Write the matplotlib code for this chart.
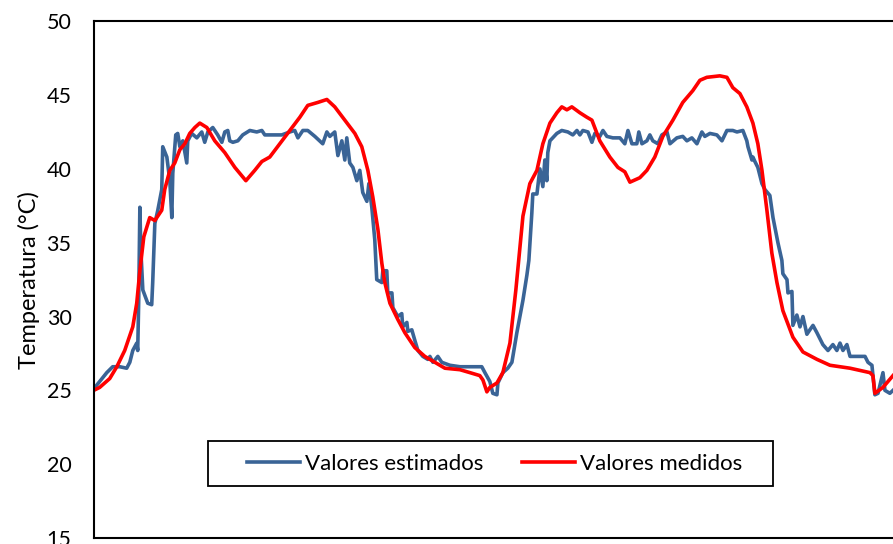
import matplotlib
matplotlib.use("Agg")
import matplotlib.pyplot as plt
from matplotlib.patches import Rectangle

# time in hours (x axis is unlabelled in the reference)
t_medidos = [0.0, 0.36, 0.97, 1.40, 1.88, 2.37, 2.61, 2.80, 3.04, 3.40, 3.71, 4.13, 4.31,
             4.62, 4.92, 5.23, 5.53, 5.83, 6.14, 6.44, 6.87, 7.35, 7.96, 8.57, 9.24, 9.78,
             10.21, 10.69, 11.30, 11.91, 12.52, 13.00, 13.61, 14.16, 14.64, 15.25, 15.86,
             16.28, 16.65, 16.95, 17.26, 17.50, 17.68, 17.99, 18.47, 18.90, 19.50, 20.11,
             20.72, 21.33, 22.24, 22.85, 23.45, 23.64, 23.88, 24.06, 24.49, 24.85, 25.28,
             25.64, 26.07, 26.49, 26.92, 27.28, 27.71, 28.13, 28.43, 28.74, 29.04, 29.53,
             29.95, 30.26, 30.74, 31.35, 31.84, 32.26, 32.57, 33.17, 33.60, 34.08, 34.57,
             35.18, 35.78, 36.39, 36.82, 37.24, 38.03, 38.46, 38.82, 39.25, 39.67, 40.04,
             40.34, 40.59, 40.89, 41.19, 41.50, 41.86, 42.47, 43.08, 43.93, 44.72, 45.94,
             47.15, 47.33, 47.45, 47.94, 48.55]
temp_medidos = [25.0, 25.2, 25.8, 26.6, 27.7, 29.3, 30.9, 33.1, 35.4, 36.7, 36.5, 37.2, 38.6,
                39.9, 40.4, 41.3, 41.7, 42.4, 42.8, 43.1, 42.8, 41.9, 41.1, 40.1, 39.2, 39.9,
                40.5, 40.8, 41.7, 42.6, 43.5, 44.3, 44.5, 44.7, 44.2, 43.3, 42.4,
                41.5, 39.9, 38.1, 35.9, 33.6, 32.3, 30.9, 29.8, 28.9, 27.9, 27.3,
                26.9, 26.5, 26.4, 26.2, 26.0, 25.7, 24.9, 25.2, 25.5, 26.2, 28.2,
                31.8, 36.8, 39.0, 39.9, 41.7, 43.1, 43.8, 44.2, 44.0, 44.2, 43.8,
                43.5, 43.3, 41.9, 40.8, 40.1, 39.8, 39.1, 39.4, 39.9, 40.8, 42.2,
                43.3, 44.5, 45.3, 46.0, 46.2, 46.3, 46.2, 45.5, 45.1, 44.2, 43.1,
                41.7, 39.9, 37.2, 34.3, 32.3, 30.4, 28.6, 27.6, 27.1, 26.7, 26.5,
                26.2, 26.0, 24.8, 25.2, 26.0]

t_estimados = [0.0, 0.36, 0.79, 1.15, 1.58, 2.00, 2.19, 2.37, 2.61, 2.67, 2.73, 2.80, 2.86,
               2.98, 3.28, 3.52, 3.58, 3.71, 3.89, 4.13, 4.19, 4.44, 4.62, 4.74, 4.80, 4.98,
               5.10, 5.23, 5.41, 5.65, 5.71, 5.95, 6.26, 6.56, 6.74, 6.93, 7.23, 7.53, 7.78,
               7.96, 8.14, 8.26, 8.45, 8.75, 9.05, 9.48, 9.90, 10.21, 10.39, 10.82, 11.42,
               11.91, 12.21, 12.40, 12.70, 13.00, 13.43, 13.91, 14.16, 14.34, 14.64, 14.83,
               15.07, 15.25, 15.37, 15.55, 15.74, 15.98, 16.16, 16.34, 16.59, 16.71, 16.89,
               17.07, 17.19, 17.50, 17.56, 17.80, 17.86, 18.11, 18.17, 18.47, 18.71, 18.77,
               19.02, 19.08, 19.32, 19.50, 19.69, 19.99, 20.29, 20.42, 20.60, 20.90, 21.14,
               21.63, 22.24, 22.85, 23.57, 23.76, 24.06, 24.24, 24.49, 24.55, 24.85, 25.15,
               25.40, 25.70, 26.07, 26.31, 26.43, 26.61, 26.67, 26.92, 27.10, 27.28, 27.40,
               27.52, 27.58, 27.71, 28.13, 28.43, 28.80, 29.10, 29.35, 29.53, 29.71, 30.02,
               30.26, 30.44, 30.74, 30.93, 31.17, 31.53, 31.96, 32.26, 32.45, 32.69, 32.99,
               33.11, 33.30, 33.60, 33.78, 33.96, 34.27, 34.51, 34.82, 35.00, 35.42, 35.78,
               36.03, 36.33, 36.64, 36.94, 37.12, 37.43, 37.85, 38.16, 38.46, 38.82, 39.07,
               39.43, 39.67, 39.74, 39.98, 40.04, 40.16, 40.34, 40.59, 40.77, 41.07, 41.26,
               41.56, 41.80, 41.86, 42.11, 42.17, 42.41, 42.47, 42.71, 42.90, 43.08, 43.32,
               43.50, 43.69, 43.93, 44.11, 44.29, 44.60, 44.90, 45.14, 45.33, 45.51, 45.75,
               45.94, 46.54, 46.85, 47.03, 47.27, 47.45, 47.64, 47.94, 48.06, 48.36, 48.55]
temp_estimados = [25.1, 25.6, 26.2, 26.6, 26.6, 26.5, 26.9, 27.7, 28.2, 27.7, 31.1, 37.4, 34.5,
                  31.8, 30.9, 30.8, 32.3, 36.3, 37.2, 38.6, 41.5, 40.8, 39.2, 36.7, 39.7, 42.3,
                  42.4, 41.5, 41.9, 40.4, 41.9, 42.4, 42.1, 42.5, 41.8, 42.5, 42.8, 42.3, 41.8,
                  42.5, 42.6, 41.9, 41.8, 41.9, 42.3, 42.6, 42.5, 42.6, 42.3, 42.3, 42.3,
                  42.5, 42.6, 42.1, 42.6, 42.6, 42.2, 41.7, 42.5, 42.2, 42.5, 40.9,
                  41.9, 40.6, 42.1, 40.4, 40.1, 39.2, 39.9, 38.4, 37.8, 39.0, 37.4,
                  35.2, 32.5, 32.3, 33.1, 33.1, 31.6, 31.6, 30.6, 30.0, 30.2, 29.3,
                  29.6, 29.0, 29.1, 28.4, 27.7, 27.3, 27.1, 27.3, 26.9, 27.3, 26.9,
                  26.7, 26.6, 26.6, 26.6, 26.2, 25.6, 24.8, 24.7, 25.5, 26.2, 26.5,
                  26.9, 28.9, 31.1, 32.8, 33.8, 37.0, 38.3, 38.3, 40.0, 38.8, 40.6,
                  39.2, 41.1, 41.9, 42.4, 42.6, 42.5, 42.3, 42.6, 42.3, 42.6, 42.5,
                  41.8, 42.4, 42.2, 42.6, 42.2, 42.1, 42.1, 41.7, 42.6, 41.7, 41.7,
                  42.5, 41.7, 41.9, 42.3, 41.9, 41.7, 42.3, 42.5, 41.7, 42.1, 42.2,
                  41.9, 42.1, 41.7, 42.5, 42.2, 42.4, 42.3, 41.9, 42.6, 42.6, 42.5,
                  42.6, 41.9, 41.5, 40.6, 40.8, 40.5, 40.1, 39.0, 38.6, 38.2, 36.7,
                  35.0, 33.8, 32.9, 32.5, 31.6, 31.7, 29.4, 30.1, 29.3, 30.0, 28.8,
                  29.1, 29.4, 28.9, 28.5, 28.1, 27.7, 28.1, 27.7, 28.2, 27.7, 28.1,
                  27.3, 27.3, 27.3, 26.9, 26.7, 24.7, 24.8, 26.2, 25.0, 24.8, 25.0]

yticks = [15, 20, 25, 30, 35, 40, 45, 50]

plt.rcParams["font.family"] = ["Lato", "DejaVu Sans"]

fig = plt.figure(figsize=(8.93, 5.44), dpi=100)
ax = fig.add_axes([0.105, 0.011, 0.895, 0.95])

ax.plot(t_estimados, temp_estimados, color="#3A6496", lw=2.6, label="Valores estimados",
        solid_joinstyle="round")
ax.plot(t_medidos, temp_medidos, color="#FF0000", lw=2.6, label="Valores medidos",
        solid_joinstyle="round")

ax.set_xlim(0, 48.55)
ax.set_ylim(15, 50)
ax.set_yticks(yticks)
ax.set_xticks([])
ax.tick_params(axis="y", length=0, pad=16, labelsize=15.5)
ax.set_ylabel("Temperatura (°C)", fontsize=17, labelpad=5)

for side in ["left", "bottom", "top"]:
    ax.spines[side].set_linewidth(1.5)
ax.spines["right"].set_visible(False)

# legend box
ax.add_patch(Rectangle((0.143, 0.1006), 0.707, 0.087, transform=ax.transAxes,
                       facecolor="white", edgecolor="black", lw=1.3, zorder=4))
ax.legend(loc="center", bbox_to_anchor=(0.5015, 0.144), ncol=2, frameon=False,
          fontsize=16, handlelength=2.4, handletextpad=0.22, columnspacing=1.75
          ).set_zorder(5)

fig.savefig("out.png", dpi=100)
